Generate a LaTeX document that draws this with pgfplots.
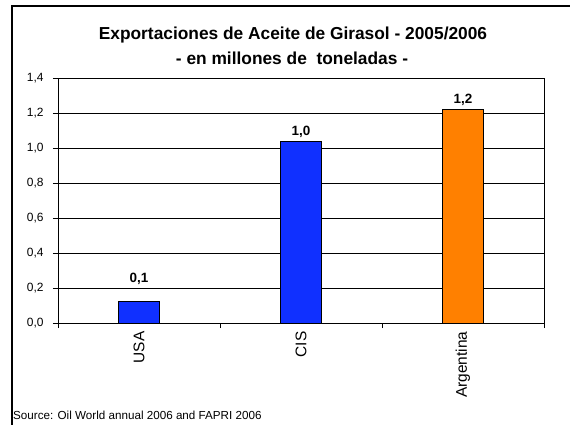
\documentclass[border=0pt]{standalone}
\usepackage{fontspec}
\setmainfont{Liberation Sans}
\usepackage{pgfplots}
\pgfplotsset{compat=1.18}
\definecolor{barblue}{RGB}{16,48,255}
\definecolor{barorange}{RGB}{255,128,0}
\begin{document}
\begin{tikzpicture}
\path[use as bounding box] (0,0) rectangle (570bp,425bp);
\draw[line width=1.2bp] (12bp,0) -- (12bp,419bp) -- (570bp,419bp);
\node[font=\fontsize{17.4}{20}\selectfont\bfseries, anchor=base, inner sep=0pt] at (293bp,385bp) {Exportaciones de Aceite de Girasol - 2005/2006};
\node[font=\fontsize{17.4}{20}\selectfont\bfseries, anchor=base, inner sep=0pt] at (292bp,360bp) {- en millones de\ \ toneladas -};
\node[font=\fontsize{11.7}{13}\selectfont, anchor=base west, inner sep=0pt] at (13bp,6bp) {Source: Oil World annual 2006 and FAPRI 2006};
\begin{axis}[
  at={(58bp,102bp)}, anchor=south west, scale only axis,
  width=486bp, height=245bp,
  xmin=-0.5, xmax=2.5, ymin=0, ymax=1.4,
  ytick={0,0.2,0.4,0.6,0.8,1.0,1.2,1.4},
  xtick={-0.5,0.5,1.5,2.5}, xticklabels={},
  extra x ticks={0,1,2}, extra x tick labels={USA,CIS,Argentina},
  extra x tick style={major tick length=0pt, xmajorgrids=false},
  ymajorgrids, xmajorgrids=false,
  grid style={black, line width=0.8bp},
  axis line style={black, line width=0.8bp},
  tick style={black, line width=0.8bp},
  tick align=outside, major tick length=5bp,
  xtick pos=bottom, ytick pos=left,
  /pgf/number format/.cd, use comma, fixed, fixed zerofill, precision=1, assume math mode=true,
  /pgfplots/.cd,
  yticklabel style={xshift=-6bp, font=\fontsize{12}{14}\selectfont},
  xticklabel style={yshift=-5bp, rotate=90, anchor=east, font=\fontsize{15.5}{17}\selectfont},
  nodes near coords style={font=\fontsize{13.5}{15}\selectfont\bfseries},
]
\addplot[ybar, bar shift=0pt, bar width=41bp, fill=barblue, draw=black, line width=0.6bp,
  nodes near coords, nodes near coords style={yshift=13bp}] coordinates {(0,0.125)};
\addplot[ybar, bar shift=0pt, bar width=41bp, fill=barblue, draw=black, line width=0.6bp,
  nodes near coords] coordinates {(1,1.04)};
\addplot[ybar, bar shift=0pt, bar width=41bp, fill=barorange, draw=black, line width=0.6bp,
  nodes near coords] coordinates {(2,1.223)};
\end{axis}
\end{tikzpicture}
\end{document}
